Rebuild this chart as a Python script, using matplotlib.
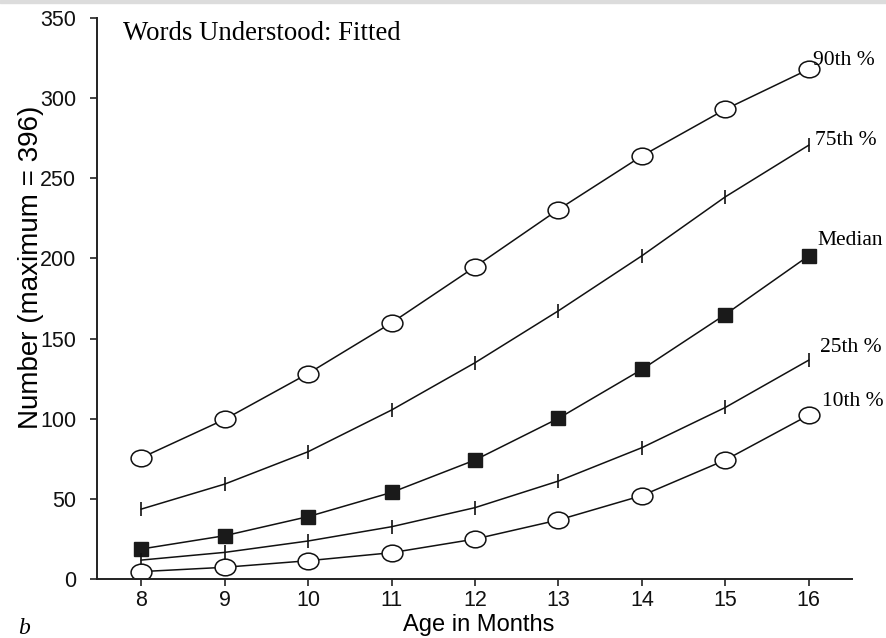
import numpy as np
import matplotlib
matplotlib.use("Agg")
import matplotlib.pyplot as plt
from matplotlib.path import Path
from matplotlib.patches import Rectangle

# edad en meses
meses = [8, 9, 10, 11, 12, 13, 14, 15, 16]
# percentiles ajustados de palabras comprendidas
p90 = [75.6, 99.6, 128.2, 159.8, 194.7, 230.5, 263.9, 293.0, 318.0]
p75 = [43.6, 59.2, 79.4, 105.4, 134.9, 167.3, 201.6, 238.4, 270.6]
mediana = [18.7, 27.0, 38.9, 54.0, 74.2, 100.2, 130.7, 165.0, 201.6]
p25 = [11.8, 16.6, 23.7, 32.6, 44.5, 61.1, 81.9, 107.0, 136.5]
p10 = [4.6, 7.3, 11.4, 16.4, 24.9, 36.8, 52.0, 74.2, 102.2]
etiquetas = ["90th %", "75th %", "Median", "25th %", "10th %"]

# marcador de elipse (circulo un poco aplastado)
circ = Path.unit_circle()
elipse = Path(circ.vertices * np.array([1.0, 0.8]), circ.codes)

fig = plt.figure(figsize=(8.87, 6.38), dpi=100)
# franja gris arriba
fig.patches.append(Rectangle((0, 0.996), 1, 0.004, transform=fig.transFigure,
                             color="#dcdcdc", zorder=0))
ax = fig.add_axes([0.1094, 0.0925, 0.8512, 0.8793])

negro = "#111111"
ax.plot(meses, p90, color=negro, lw=1.1, marker=elipse, ms=15, mfc="white", mec=negro, mew=1.1)
ax.plot(meses, p75, color=negro, lw=1.1, marker="|", ms=10, mec=negro, mew=1.2)
ax.plot(meses, mediana, color=negro, lw=1.1, marker="s", ms=9.5, mfc="#1a1a1a", mec="#1a1a1a")
ax.plot(meses, p25, color=negro, lw=1.1, marker="|", ms=10, mec=negro, mew=1.2)
ax.plot(meses, p10, color=negro, lw=1.1, marker=elipse, ms=15, mfc="white", mec=negro, mew=1.1)

# etiquetas de cada curva
serif = "Liberation Serif"
ax.text(16.05, 320.4, etiquetas[0], family=serif, fontsize=15.5, va="baseline", ha="left")
ax.text(16.08, 270.6, etiquetas[1], family=serif, fontsize=15.5, va="baseline", ha="left")
ax.text(16.10, 208.2, etiquetas[2], family=serif, fontsize=15.5, va="baseline", ha="left")
ax.text(16.13, 141.5, etiquetas[3], family=serif, fontsize=15.5, va="baseline", ha="left")
ax.text(16.16, 107.7, etiquetas[4], family=serif, fontsize=15.5, va="baseline", ha="left")

ax.text(7.78, 336, "Words Understood: Fitted", family=serif, fontsize=19.3, va="baseline", ha="left")

ax.set_xlim(7.47, 16.52)
ax.set_ylim(0, 350)
ax.set_xticks(meses)
ax.set_yticks(np.arange(0, 351, 50))
ax.spines["top"].set_visible(False)
ax.spines["right"].set_visible(False)
for s in ["left", "bottom"]:
    ax.spines[s].set_linewidth(1.4)
    ax.spines[s].set_color("#222222")
ax.tick_params(axis="both", direction="out", length=5, width=1.2, labelsize=15.5,
               colors="#222222", labelcolor="#111111")
ax.tick_params(axis="y", pad=10)
ax.tick_params(axis="x", pad=3)
for t in ax.get_xticklabels() + ax.get_yticklabels():
    t.set_family("Liberation Sans")

ax.text(-0.088, 0.556, "Number (maximum = 396)", family="Liberation Sans", fontsize=20,
        rotation=90, ha="center", va="center", transform=ax.transAxes)
ax.text(0.506, -0.082, "Age in Months", family="Liberation Sans", fontsize=17,
        ha="center", va="center", transform=ax.transAxes)

fig.text(0.02, 0.006, "b", family=serif, style="italic", fontsize=17, va="baseline")

plt.savefig("out.png", dpi=100)
